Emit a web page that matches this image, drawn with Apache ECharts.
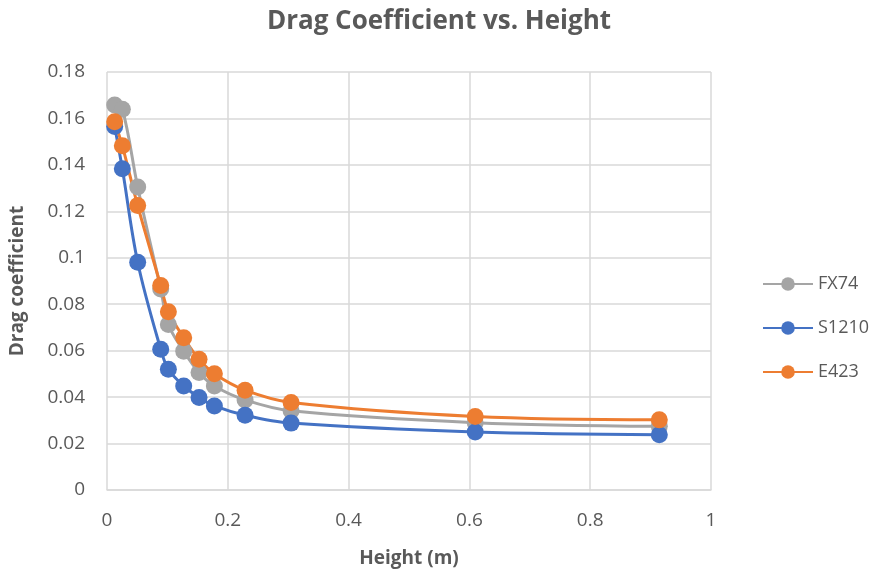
<!DOCTYPE html>
<html>
<head>
<meta charset="utf-8">
<script src="https://cdn.jsdelivr.net/npm/echarts@6/dist/echarts.min.js"></script>
<style>
  html, body { margin: 0; padding: 0; background: #fff; }
  #chart { width: 878px; height: 573px; }
</style>
</head>
<body>
<div id="chart"></div>
<script>
// heights in metres
const heights = [0.0127, 0.0254, 0.0508, 0.0889, 0.1016, 0.127, 0.1524, 0.1778, 0.2286, 0.3048, 0.6096, 0.9144]

const fx74 = [0.1658, 0.1640, 0.1305, 0.0866, 0.0713, 0.0598, 0.0506, 0.0448, 0.0388, 0.0341, 0.0290, 0.0274]
const s1210 = [0.1565, 0.1383, 0.0981, 0.0606, 0.0520, 0.0448, 0.0398, 0.0362, 0.0322, 0.0288, 0.0250, 0.0238]
const e423 = [0.1586, 0.1482, 0.1225, 0.0881, 0.0768, 0.0656, 0.0563, 0.0501, 0.0430, 0.0377, 0.0317, 0.0302]

const chart = echarts.init(document.getElementById('chart'))

function pairs(ys) {
  return heights.map((x, i) => [x, ys[i]])
}

function makeSeries(name, ys, color) {
  return {
    name: name,
    type: 'line',
    data: pairs(ys),
    smooth: 0.35,
    symbol: 'circle',
    symbolSize: 17,
    itemStyle: { color: color },
    lineStyle: { color: color, width: 3 },
    animation: false
  }
}

const textColor = '#595959'
const font = '"Open Sans", sans-serif'

chart.setOption({
  title: {
    text: 'Drag Coefficient vs. Height',
    left: 'center',
    top: 4,
    textStyle: { fontSize: 26, fontWeight: 'bold', color: textColor, fontFamily: font }
  },
  legend: {
    orient: 'vertical',
    left: 757,
    top: 270,
    itemGap: 26,
    itemWidth: 50,
    itemHeight: 17,
    textStyle: { fontSize: 18, color: textColor, fontFamily: font },
    data: ['FX74', 'S1210', 'E423']
  },
  grid: { left: 107, right: 167, top: 72, bottom: 82, containLabel: false },
  xAxis: {
    type: 'value',
    min: 0,
    max: 1,
    interval: 0.2,
    name: 'Height (m)',
    nameLocation: 'middle',
    nameGap: 59,
    nameTextStyle: { fontSize: 19, fontWeight: 'bold', color: textColor, fontFamily: font },
    axisLine: { show: true, lineStyle: { color: '#d9d9d9', width: 1.5 } },
    axisTick: { show: false },
    axisLabel: { fontSize: 19, color: textColor, fontFamily: font, margin: 21 },
    splitLine: { show: true, lineStyle: { color: '#d9d9d9', width: 1.5 } }
  },
  yAxis: {
    type: 'value',
    min: 0,
    max: 0.18,
    interval: 0.02,
    name: 'Drag coefficient',
    nameLocation: 'middle',
    nameGap: 80,
    nameTextStyle: { fontSize: 19, fontWeight: 'bold', color: textColor, fontFamily: font },
    axisLine: { show: false },
    axisTick: { show: false },
    axisLabel: {
      fontSize: 19, color: textColor, fontFamily: font, margin: 22,
      formatter: v => String(Math.round(v * 100) / 100)
    },
    splitLine: { show: true, lineStyle: { color: '#d9d9d9', width: 1.5 } }
  },
  series: [
    makeSeries('FX74', fx74, '#A5A5A5'),
    makeSeries('S1210', s1210, '#4472C4'),
    makeSeries('E423', e423, '#ED7D31')
  ]
})
</script>
</body>
</html>
